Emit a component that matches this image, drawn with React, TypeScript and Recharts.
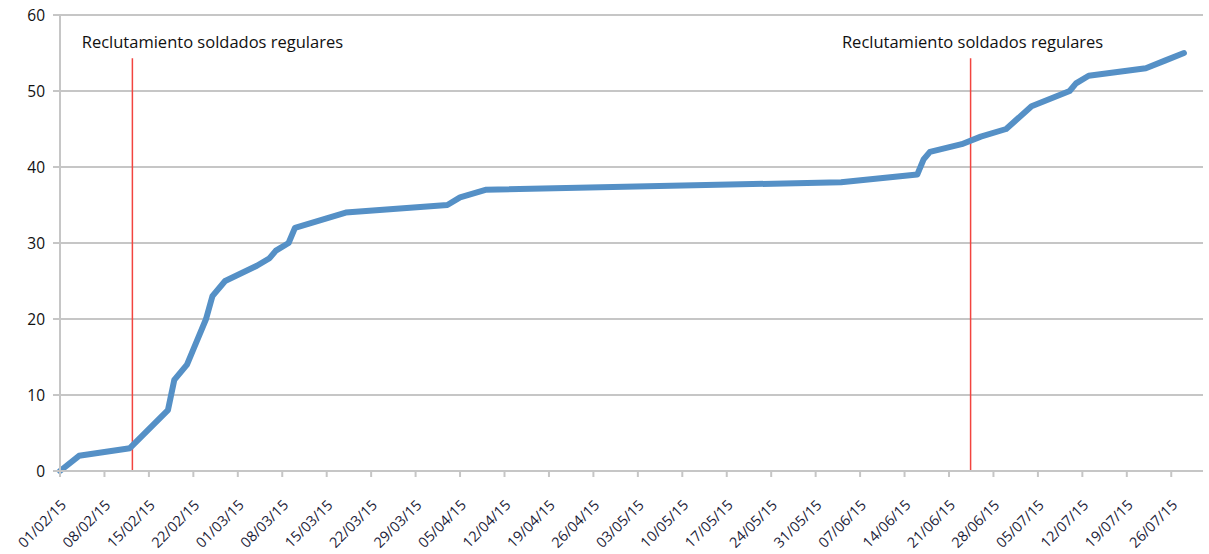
import React from "react";
import {
  LineChart,
  Line,
  XAxis,
  YAxis,
  CartesianGrid,
  ReferenceLine,
} from "recharts";

// fechas de cada alta y el acumulado correspondiente
const fechas = [
  "01/02/15", "04/02/15", "12/02/15", "18/02/15", "19/02/15", "21/02/15",
  "22/02/15", "24/02/15", "25/02/15", "27/02/15", "04/03/15", "06/03/15",
  "07/03/15", "09/03/15", "10/03/15", "18/03/15", "03/04/15", "05/04/15",
  "09/04/15", "04/06/15", "16/06/15", "17/06/15", "18/06/15", "23/06/15",
  "26/06/15", "30/06/15", "04/07/15", "10/07/15", "11/07/15", "13/07/15",
  "22/07/15", "25/07/15", "28/07/15",
];
const acumulado = [
  0, 2, 3, 8, 12, 14, 16, 20, 23, 25, 27, 28, 29, 30, 32, 34, 35, 36, 37, 38,
  39, 41, 42, 43, 44, 45, 48, 50, 51, 52, 53, 54, 55,
];

const semanas = [
  "01/02/15", "08/02/15", "15/02/15", "22/02/15", "01/03/15", "08/03/15",
  "15/03/15", "22/03/15", "29/03/15", "05/04/15", "12/04/15", "19/04/15",
  "26/04/15", "03/05/15", "10/05/15", "17/05/15", "24/05/15", "31/05/15",
  "07/06/15", "14/06/15", "21/06/15", "28/06/15", "05/07/15", "12/07/15",
  "19/07/15", "26/07/15",
];
const yTicks = [0, 10, 20, 30, 40, 50, 60];

// días (desde el 01/02/15) en que se marcan los reclutamientos
const reclutamientos = [11.4, 143.4];
const etiqueta = "Reclutamiento soldados regulares";

const DIA = 86400000;
const parse = (s: string) => {
  const [d, m, y] = s.split("/").map(Number);
  return Date.UTC(2000 + y, m - 1, d);
};
const t0 = parse(semanas[0]);
const toDay = (s: string) => Math.round((parse(s) - t0) / DIA);

const data = fechas.map((f, i) => ({ dia: toDay(f), valor: acumulado[i] }));
const tickDays = semanas.map(toDay);
const tickLabel: Record<number, string> = {};
semanas.forEach((s, i) => (tickLabel[tickDays[i]] = s));

const FONT = "'Open Sans', sans-serif";
const GRIS = "#c6c6c6";

const DateTick = (props: any) => {
  const { x, y, payload } = props;
  const ax = x + 7;
  const ay = y + 27;
  return (
    <text
      x={ax}
      y={ay}
      transform={`rotate(-45 ${ax} ${ay})`}
      textAnchor="end"
      fontSize={14.5}
      fontFamily={FONT}
      fill="#1c1c38"
    >
      {tickLabel[payload.value]}
    </text>
  );
};

export default function App() {
  return (
    <div style={{ position: "absolute", left: 0, top: 0, background: "#fff" }}>
      <LineChart
        width={1209}
        height={554}
        data={data}
        margin={{ top: 15, right: 6, bottom: 0, left: 0 }}
      >
        <CartesianGrid
          vertical={false}
          stroke={GRIS}
          strokeWidth={2}
          horizontalValues={yTicks}
        />
        <XAxis
          dataKey="dia"
          type="number"
          domain={[0, 180]}
          ticks={tickDays}
          interval={0}
          height={83}
          stroke={GRIS}
          strokeWidth={2}
          tickSize={6}
          tick={<DateTick />}
        />
        <YAxis
          domain={[0, 60]}
          ticks={yTicks}
          width={60}
          stroke={GRIS}
          strokeWidth={2}
          tickSize={7}
          tickMargin={8}
          tick={{ fill: "#111", fontSize: 15.5, fontFamily: FONT }}
        />
        {reclutamientos.map((d, i) => (
          <ReferenceLine
            key={i}
            segment={[
              { x: d, y: 54.3 },
              { x: d, y: 0 },
            ]}
            stroke="#f2443f"
            strokeWidth={1.5}
            label={{
              value: etiqueta,
              position: "top",
              dx: i === 0 ? 80 : 2,
              dy: -5,
              fill: "#111",
              fontSize: 16.5,
              fontFamily: FONT,
            }}
          />
        ))}
        <Line
          type="linear"
          dataKey="valor"
          stroke="#5590c6"
          strokeWidth={6}
          strokeLinejoin="round"
          strokeLinecap="round"
          dot={false}
          isAnimationActive={false}
        />
      </LineChart>
    </div>
  );
}
